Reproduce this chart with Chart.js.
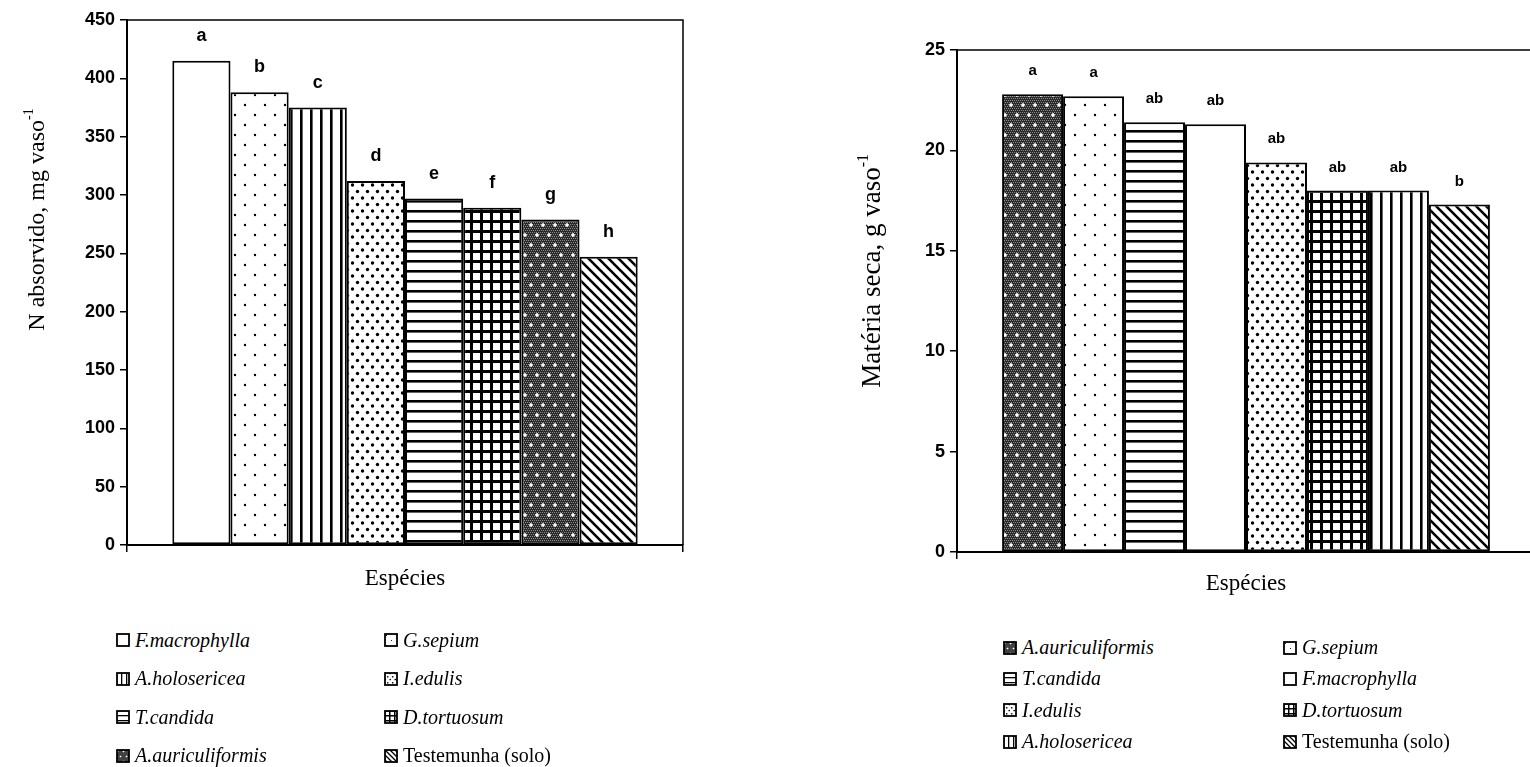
<!DOCTYPE html>
<html>
<head>
<meta charset="utf-8">
<script src="https://cdn.jsdelivr.net/npm/chart.js@4.4.0/dist/chart.umd.min.js"></script>
<style>
  body { margin: 0; background: #fff; width: 1530px; height: 767px; overflow: hidden; position: relative; font-family: "Liberation Serif", "Times New Roman", serif; }
  .caixa { position: absolute; top: 0; }
  .legenda { position: absolute; display: grid; font-size: 20px; color: #000; }
  .item { display: flex; align-items: center; white-space: nowrap; }
  .item canvas { margin-right: 5px; }
  .item i { font-style: italic; }
</style>
</head>
<body>
<div class="caixa" style="left:0;width:700px;height:600px"><canvas id="grafico-n" width="700" height="600"></canvas></div>
<div class="caixa" style="left:840px;width:700px;height:600px"><canvas id="grafico-ms" width="700" height="600"></canvas></div>
<div class="legenda" id="legenda-n" style="left:116px;top:621px;grid-template-columns:268px auto;grid-auto-rows:38.5px"></div>
<div class="legenda" id="legenda-ms" style="left:1003px;top:632px;grid-template-columns:280px auto;grid-auto-rows:31.3px"></div>
<script>
// N absorvido (grafico da esquerda)
const especiesN = ['F.macrophylla', 'G.sepium', 'A.holosericea', 'I.edulis', 'T.candida', 'D.tortuosum', 'A.auriculiformis', 'Testemunha (solo)']
const valoresN = [415, 388, 375, 312, 297, 289, 279, 247]
const letrasN = ['a', 'b', 'c', 'd', 'e', 'f', 'g', 'h']

// Materia seca (grafico da direita)
const especiesMS = ['A.auriculiformis', 'G.sepium', 'T.candida', 'F.macrophylla', 'I.edulis', 'D.tortuosum', 'A.holosericea', 'Testemunha (solo)']
const valoresMS = [22.8, 22.7, 21.4, 21.3, 19.4, 18.0, 18.0, 17.3]
const letrasMS = ['a', 'a', 'ab', 'ab', 'ab', 'ab', 'ab', 'b']

Chart.defaults.font.family = '"Liberation Sans", Arial, sans-serif'
Chart.defaults.color = '#000'
const serifa = '"Liberation Serif", "Times New Roman", serif'

// texturas em preto e branco de cada especie
function criarPadrao(nome, escala = 1) {
  const c = document.createElement('canvas')
  const ctx = c.getContext('2d')
  const tam = (w, h) => { c.width = w * escala; c.height = h * escala; ctx.scale(escala, escala); ctx.fillStyle = '#fff'; ctx.fillRect(0, 0, w, h); ctx.fillStyle = '#000'; ctx.strokeStyle = '#000' }
  const ponto = (x, y, r) => { ctx.beginPath(); ctx.arc(x, y, r, 0, Math.PI * 2); ctx.fill() }
  if (nome === 'F.macrophylla') {
    return '#fff'
  } else if (nome === 'G.sepium') {
    tam(20, 20)
    ponto(5, 5, 1.2)
    ponto(15, 15, 1.2)
  } else if (nome === 'A.holosericea') {
    tam(10, 10)
    ctx.fillRect(0, 0, 2.6, 10)
  } else if (nome === 'I.edulis') {
    tam(10, 13)
    ponto(2.5, 3, 1.7)
    ponto(7.5, 9.5, 1.7)
  } else if (nome === 'T.candida') {
    tam(10, 10)
    ctx.fillRect(0, 0, 10, 2.6)
  } else if (nome === 'D.tortuosum') {
    tam(10, 10)
    ctx.fillRect(0, 0, 3, 10)
    ctx.fillRect(0, 0, 10, 3)
  } else if (nome === 'A.auriculiformis') {
    tam(12, 20)
    ctx.fillStyle = '#2a2a2a'
    ctx.fillRect(0, 0, 12, 20)
    ctx.fillStyle = '#8a8a8a'
    for (let y = 0; y < 20; y += 2) for (let x = (y / 2) % 2; x < 12; x += 2) ctx.fillRect(x, y, 1, 1)
    ctx.fillStyle = '#fff'
    const losango = (x, y) => { ctx.beginPath(); ctx.moveTo(x, y - 2.2); ctx.lineTo(x + 2.2, y); ctx.lineTo(x, y + 2.2); ctx.lineTo(x - 2.2, y); ctx.fill() }
    losango(3, 5)
    losango(9, 15)
  } else {
    tam(10, 10)
    ctx.lineWidth = 2.6
    ctx.beginPath()
    ctx.moveTo(-2, -2); ctx.lineTo(12, 12)
    ctx.moveTo(-2, 8); ctx.lineTo(2, 12)
    ctx.moveTo(8, -2); ctx.lineTo(12, 2)
    ctx.stroke()
  }
  return ctx.createPattern(c, 'repeat')
}

const rotulosBarras = {
  id: 'rotulosBarras',
  afterDatasetsDraw(chart, args, opts) {
    const ctx = chart.ctx
    ctx.save()
    ctx.font = opts.fonte
    ctx.fillStyle = '#000'
    ctx.textAlign = 'center'
    ctx.textBaseline = 'alphabetic'
    chart.data.datasets.forEach((ds, i) => {
      const barra = chart.getDatasetMeta(i).data[0]
      ctx.fillText(opts.letras[i], barra.x, barra.y - opts.distancia)
    })
    ctx.restore()
  }
}

// moldura do grafico (topo e lado direito) e titulo do eixo y um pouco acima do centro
const moldura = {
  id: 'moldura',
  afterDraw(chart, args, opts) {
    const { ctx, chartArea } = chart
    ctx.save()
    ctx.strokeStyle = '#000'
    ctx.lineWidth = 1.5
    ctx.beginPath()
    ctx.moveTo(chartArea.left, chartArea.top)
    ctx.lineTo(chartArea.right, chartArea.top)
    ctx.lineTo(chartArea.right, chartArea.bottom)
    ctx.stroke()

    const y = chartArea.top + (chartArea.bottom - chartArea.top) * opts.centro
    ctx.translate(opts.x, y)
    ctx.rotate(-Math.PI / 2)
    ctx.fillStyle = '#000'
    ctx.textBaseline = 'middle'
    ctx.font = opts.tamanho + 'px ' + serifa
    const larguraTexto = ctx.measureText(opts.texto).width
    ctx.font = Math.round(opts.tamanho * 0.6) + 'px ' + serifa
    const larguraExp = ctx.measureText(opts.expoente).width
    const inicio = -(larguraTexto + larguraExp) / 2
    ctx.font = opts.tamanho + 'px ' + serifa
    ctx.textAlign = 'left'
    ctx.fillText(opts.texto, inicio, 0)
    ctx.font = Math.round(opts.tamanho * 0.6) + 'px ' + serifa
    ctx.fillText(opts.expoente, inicio + larguraTexto, -opts.tamanho * 0.35)
    ctx.restore()
  }
}

function gerandoGrafico(id, especies, valores, letras, cfg) {
  const contexto = document.querySelector(id).getContext('2d')
  return new Chart(contexto, {
    type: 'bar',
    data: {
      labels: [''],
      datasets: especies.map((nome, i) => ({
        label: nome,
        data: [valores[i]],
        backgroundColor: criarPadrao(nome),
        borderColor: '#000',
        borderWidth: 2,
        borderSkipped: false,
        categoryPercentage: cfg.percentual,
        barPercentage: 1
      }))
    },
    options: {
      responsive: false,
      animation: false,
      layout: { padding: cfg.padding },
      plugins: {
        legend: { display: false },
        tooltip: { enabled: false },
        rotulosBarras: { letras: letras, fonte: cfg.fonteLetra, distancia: cfg.distancia },
        moldura: cfg.tituloY
      },
      scales: {
        x: {
          afterFit: s => { s.height = cfg.alturaX },
          ticks: { display: false },
          grid: { drawOnChartArea: false, drawTicks: true, tickLength: 7, color: '#000', lineWidth: 1.5 },
          border: { color: '#000', width: 2 },
          title: { display: true, text: 'Espécies', font: { family: serifa, size: 23 }, padding: { top: 0, bottom: cfg.tituloXbaixo } }
        },
        y: {
          min: 0,
          max: cfg.max,
          afterFit: s => { s.width = cfg.larguraY },
          ticks: { stepSize: cfg.passo, padding: 5, font: { size: cfg.fonteTick, weight: 'bold' } },
          grid: { drawOnChartArea: false, drawTicks: true, tickLength: 7, color: '#000', lineWidth: 1.5 },
          border: { color: '#000', width: 2 }
        }
      }
    },
    plugins: [rotulosBarras, moldura]
  })
}

gerandoGrafico('#grafico-n', especiesN, valoresN, letrasN, {
  percentual: 0.837, padding: { top: 20, right: 17, left: 0, bottom: 0 },
  alturaX: 55, larguraY: 127, max: 450, passo: 50, fonteTick: 18,
  fonteLetra: 'bold 18px "Liberation Sans", Arial, sans-serif', distancia: 20,
  tituloY: { texto: 'N absorvido, mg vaso', expoente: '-1', tamanho: 24, x: 38, centro: 0.38 },
  tituloXbaixo: 7
})

gerandoGrafico('#grafico-ms', especiesMS, valoresMS, letrasMS, {
  percentual: 0.844, padding: { top: 50, right: 5, left: 0, bottom: 0 },
  alturaX: 48, larguraY: 117, max: 25, passo: 5, fonteTick: 18,
  fonteLetra: 'bold 15px "Liberation Sans", Arial, sans-serif', distancia: 19,
  tituloY: { texto: 'Matéria seca, g vaso', expoente: '-1', tamanho: 27, x: 33, centro: 0.44 },
  tituloXbaixo: 2
})

// legendas em duas colunas, lidas por linha como no original
function gerandoLegenda(id, especies) {
  const caixa = document.querySelector(id)
  especies.forEach(nome => {
    const item = document.createElement('div')
    item.className = 'item'
    const amostra = document.createElement('canvas')
    amostra.width = 14
    amostra.height = 14
    const ctx = amostra.getContext('2d')
    ctx.fillStyle = criarPadrao(nome, 0.5)
    ctx.fillRect(1, 1, 12, 12)
    ctx.strokeStyle = '#000'
    ctx.lineWidth = 1.8
    ctx.strokeRect(1, 1, 12, 12)
    item.appendChild(amostra)
    const texto = document.createElement(nome.startsWith('Testemunha') ? 'span' : 'i')
    texto.textContent = nome
    item.appendChild(texto)
    caixa.appendChild(item)
  })
}
gerandoLegenda('#legenda-n', especiesN)
gerandoLegenda('#legenda-ms', especiesMS)
</script>
</body>
</html>
